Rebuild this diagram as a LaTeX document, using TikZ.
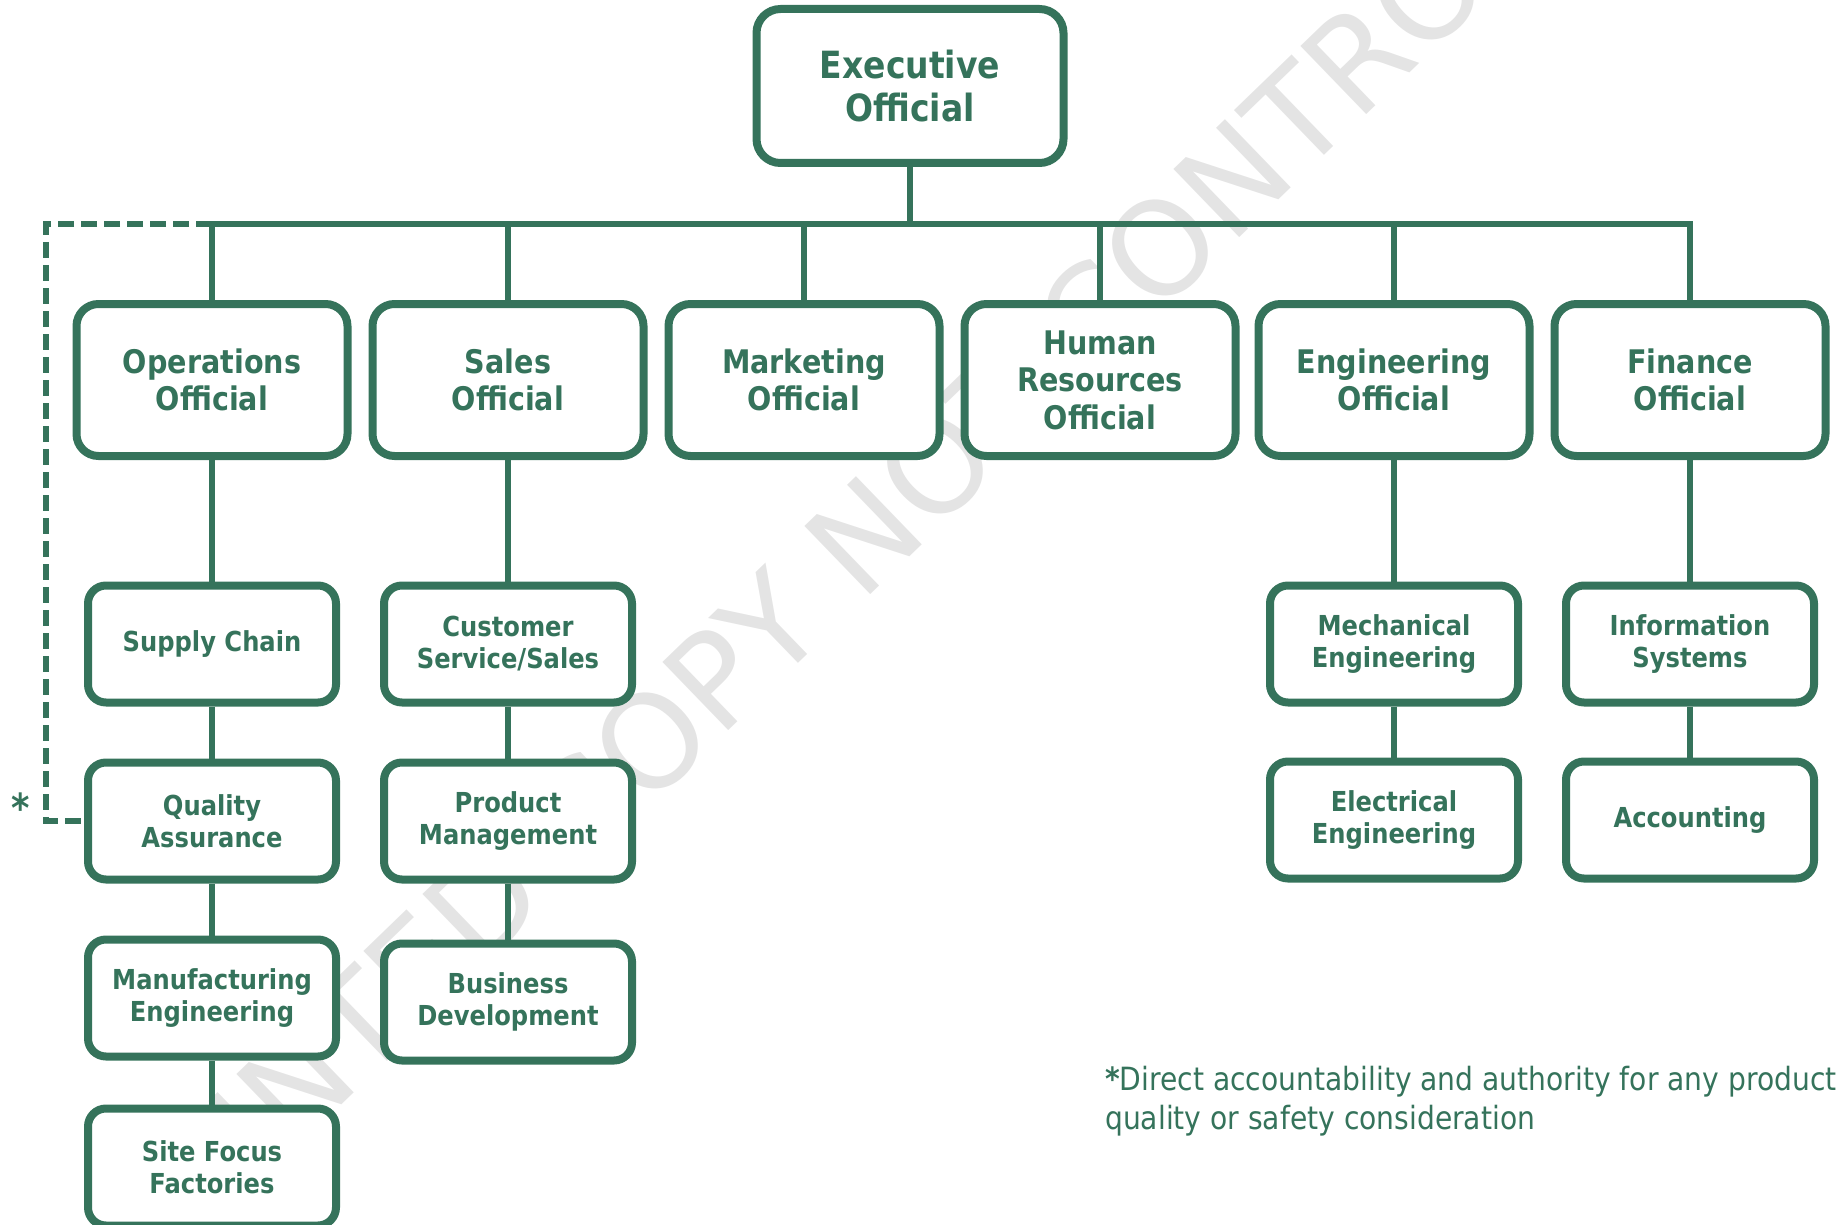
\documentclass[tikz,border=0pt]{standalone}
\usepackage{fontspec}
\setmainfont{DejaVu Sans}[FakeStretch=0.88]
\newfontfamily\wmfont{DejaVu Sans}
\usetikzlibrary{backgrounds}
\definecolor{dg}{RGB}{53,115,91}
\definecolor{wm}{RGB}{228,228,228}
\pgfdeclarelayer{wmlayer}
\pgfdeclarelayer{background}
\pgfsetlayers{wmlayer,background,main}
\begin{document}
\begin{tikzpicture}[x=1pt,y=-1pt,
  box/.style={draw=dg, line width=8pt, fill=white, align=center, text=dg, inner sep=0pt},
  execbox/.style={box, rounded corners=24pt, minimum width=307pt, minimum height=154pt, font=\bfseries\fontsize{37.5}{43}\selectfont},
  offbox/.style={box, rounded corners=22pt, minimum width=271pt, minimum height=152pt, font=\bfseries\fontsize{32.5}{37.5}\selectfont},
  deptbox/.style={box, rounded corners=18pt, minimum width=248pt, minimum height=117pt, font=\bfseries\fontsize{27.5}{32}\selectfont},
  link/.style={draw=dg, line width=6pt},
  dashlink/.style={link, dash pattern=on 16pt off 7pt},
  wmtext/.style={text=wm, font=\wmfont\fontsize{130}{130}\selectfont, rotate=44, inner sep=0pt},
]
\clip (0,0) rectangle (1837,1225);
\begin{pgfonlayer}{wmlayer}
\node[wmtext] (wmark) at (905,495) {PRINTED COPY NOT CONTROLLED};
\end{pgfonlayer}

\node[execbox] (ex) at (910,86) {Executive\\Official};

\node[offbox] (ops) at (212,380) {Operations\\Official};
\node[offbox] (sal) at (508,380) {Sales\\Official};
\node[offbox] (mkt) at (804,380) {Marketing\\Official};
\node[offbox] (hr)  at (1100,380) {Human\\Resources\\Official};
\node[offbox] (eng) at (1394,380) {Engineering\\Official};
\node[offbox] (fin) at (1690,380) {Finance\\Official};

\node[deptbox] (sc)   at (212,644)  {Supply Chain};
\node[deptbox] (qa)   at (212,821)  {Quality\\Assurance};
\node[deptbox] (mfg)  at (212,998)  {Manufacturing\\Engineering};
\node[deptbox] (site) at (212,1167) {Site Focus\\Factories};
\node[deptbox] (cs)   at (508,644)  {Customer\\Service/Sales};
\node[deptbox] (pm)   at (508,821)  {Product\\Management};
\node[deptbox] (bd)   at (508,1002) {Business\\Development};
\node[deptbox] (me)   at (1394,644) {Mechanical\\Engineering};
\node[deptbox] (ee)   at (1394,820) {Electrical\\Engineering};
\node[deptbox] (is)   at (1690,644) {Information\\Systems};
\node[deptbox] (acc)  at (1690,820) {Accounting};

\coordinate (busY) at (0,224);
\coordinate (dtop) at (46,224);

\node[text=dg, inner sep=0pt, font=\bfseries\fontsize{40}{40}\selectfont] (ast) at (21,808) {*};
\node[anchor=north west, align=left, text=dg, inner sep=0pt, font=\fontsize{32}{39}\selectfont] (note) at (1105,1066)
  {\textbf{*}Direct accountability and authority for any product\\quality or safety consideration};

\begin{pgfonlayer}{background}
\draw[link] (ex.south) -- (ex.south |- busY);
\draw[link] (ops.north) -- (ops.north |- busY) -- (fin.north |- busY) -- (fin.north);
\draw[link] (sal.north) -- (sal.north |- busY);
\draw[link] (mkt.north) -- (mkt.north |- busY);
\draw[link] (hr.north) -- (hr.north |- busY);
\draw[link] (eng.north) -- (eng.north |- busY);
\draw[dashlink] (ops.north |- busY) -- (dtop) |- (qa.west);
\draw[link] (ops.south) -- (sc.north);
\draw[link] (sc.south) -- (qa.north);
\draw[link] (qa.south) -- (mfg.north);
\draw[link] (mfg.south) -- (site.north);
\draw[link] (sal.south) -- (cs.north);
\draw[link] (cs.south) -- (pm.north);
\draw[link] (pm.south) -- (bd.north);
\draw[link] (eng.south) -- (me.north);
\draw[link] (me.south) -- (ee.north);
\draw[link] (fin.south) -- (is.north);
\draw[link] (is.south) -- (acc.north);
\end{pgfonlayer}
\end{tikzpicture}
\end{document}
